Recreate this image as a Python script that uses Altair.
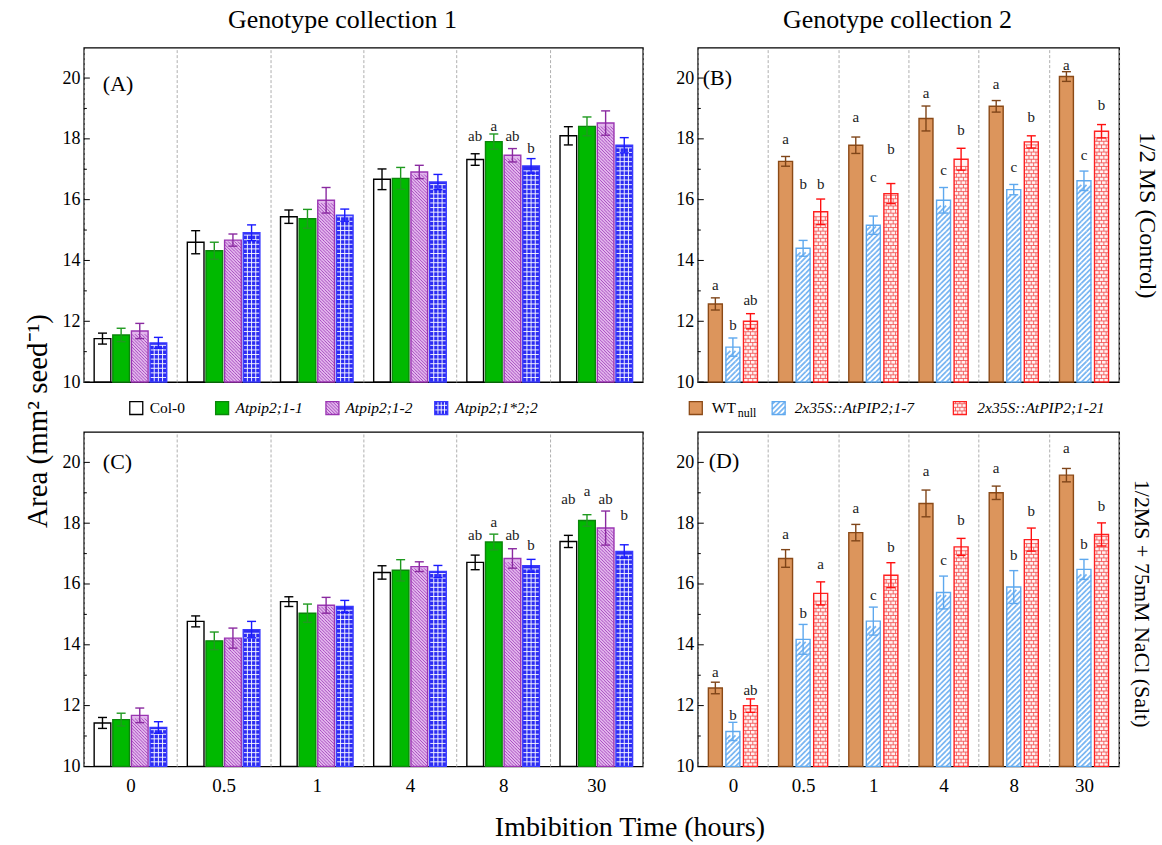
import altair as alt
import pandas as pd

FONT = "Liberation Serif"
NA = None

# ---------------------------------------------------------------- data
times = ["0", "0.5", "1", "4", "8", "30"]

geno_c1 = ["Col-0", "Atpip2;1-1", "Atpip2;1-2", "Atpip2;1*2;2"]
geno_c2 = ["WT_null", "2x35S::AtPIP2;1-7", "2x35S::AtPIP2;1-21"]

# (A) collection 1, 1/2 MS (control): mean seed area and SE
a_col0 = [11.43, 14.60, 15.44, 16.67, 17.32, 18.10]
a_col0_se = [0.18, 0.38, 0.22, 0.34, 0.19, 0.30]
a_pip1 = [11.55, 14.32, 15.37, 16.70, 17.91, 18.41]
a_pip1_se = [0.22, 0.28, 0.31, 0.36, 0.25, 0.31]
a_pip2 = [11.68, 14.67, 15.98, 16.91, 17.46, 18.52]
a_pip2_se = [0.25, 0.20, 0.42, 0.22, 0.22, 0.40]
a_dbl = [11.29, 14.91, 15.49, 16.58, 17.11, 17.79]
a_dbl_se = [0.18, 0.26, 0.20, 0.25, 0.24, 0.25]
a_letters = [["", "", "", "", "ab", ""], ["", "", "", "", "a", ""],
             ["", "", "", "", "ab", ""], ["", "", "", "", "b", ""]]
a_letter_y = [[NA, NA, NA, NA, 18.10, NA], [NA, NA, NA, NA, 18.43, NA],
              [NA, NA, NA, NA, 18.10, NA], [NA, NA, NA, NA, 17.69, NA]]

# (C) collection 1, 1/2 MS + 75 mM NaCl (salt)
c_col0 = [11.43, 14.77, 15.42, 16.38, 16.71, 17.40]
c_col0_se = [0.18, 0.18, 0.16, 0.22, 0.24, 0.20]
c_pip1 = [11.54, 14.13, 15.04, 16.45, 17.38, 18.09]
c_pip1_se = [0.21, 0.29, 0.30, 0.35, 0.26, 0.19]
c_pip2 = [11.68, 14.22, 15.30, 16.57, 16.84, 17.84]
c_pip2_se = [0.24, 0.33, 0.26, 0.16, 0.32, 0.56]
c_dbl = [11.28, 14.50, 15.26, 16.41, 16.60, 17.07]
c_dbl_se = [0.19, 0.27, 0.20, 0.20, 0.21, 0.22]
c_letters = [["", "", "", "", "ab", "ab"], ["", "", "", "", "a", "a"],
             ["", "", "", "", "ab", "ab"], ["", "", "", "", "b", "b"]]
c_letter_y = [[NA, NA, NA, NA, 17.60, 18.80], [NA, NA, NA, NA, 18.03, 19.07],
              [NA, NA, NA, NA, 17.60, 18.80], [NA, NA, NA, NA, 17.27, 18.26]]

# (B) collection 2, control
b_wt = [12.57, 17.26, 17.79, 18.67, 19.07, 20.05]
b_wt_se = [0.20, 0.16, 0.27, 0.41, 0.19, 0.16]
b_l7 = [11.15, 14.40, 15.16, 15.98, 16.33, 16.62]
b_l7_se = [0.30, 0.26, 0.30, 0.42, 0.17, 0.32]
b_l21 = [12.00, 15.60, 16.20, 17.33, 17.90, 18.25]
b_l21_se = [0.25, 0.42, 0.33, 0.36, 0.20, 0.22]
b_letters = [["a"] * 6, ["b", "b", "c", "c", "c", "c"], ["ab", "b", "b", "b", "b", "b"]]
b_letter_y = [[13.20, 18.00, 18.72, 19.52, 19.81, 20.42],
              [11.88, 16.53, 16.75, 16.97, 17.08, 17.48],
              [12.70, 16.53, 17.68, 18.28, 18.72, 19.12]]

# (D) collection 2, salt
d_wt = [12.58, 16.84, 17.69, 18.65, 19.00, 19.58]
d_wt_se = [0.19, 0.29, 0.27, 0.44, 0.22, 0.22]
d_l7 = [11.15, 14.18, 14.78, 15.72, 15.90, 16.48]
d_l7_se = [0.30, 0.49, 0.46, 0.54, 0.54, 0.33]
d_l21 = [12.00, 15.69, 16.29, 17.22, 17.46, 17.63]
d_l21_se = [0.22, 0.38, 0.41, 0.28, 0.38, 0.38]
d_letters = [["a"] * 6, ["b", "b", "c", "c", "b", "b"], ["ab", "a", "b", "b", "b", "b"]]
d_letter_y = [[13.10, 17.66, 18.50, 19.71, 19.82, 20.46],
              [11.68, 15.03, 15.65, 16.80, 16.95, 17.30],
              [12.50, 16.67, 17.22, 18.10, 18.40, 18.56]]

# ---------------------------------------------------------------- layout
W1, W2, H = 560, 422, 335
Y_MIN, Y_MAX = 10, 21
PPU = H / (Y_MAX - Y_MIN)
ONE = pd.DataFrame({"k": [0]})

STYLE = {
    "Col-0": dict(fill="white", stroke="black", err="black"),
    "Atpip2;1-1": dict(fill="#00b900", stroke="#0b860b", err="#1f9a1f"),
    "Atpip2;1-2": dict(fill="#e2b6ec", stroke="#9a35b2", err="#8a2aa0",
                       pattern=dict(kind="diag", slope=1, spacing=3.2, color="#a13fbb", width=0.9)),
    "Atpip2;1*2;2": dict(fill="#2c2cf2", stroke="#3a3aff", err="#1a1aff",
                         pattern=dict(kind="grid", cell=4.6, ncols=4, color="white", width=0.9)),
    "WT_null": dict(fill="#dc955c", stroke="#8b4a17", err="#7f4519"),
    "2x35S::AtPIP2;1-7": dict(fill="white", stroke="#5ea8ee", err="#5ea8ee",
                              pattern=dict(kind="diag", slope=-1, spacing=5.2, color="#7ab6f2", width=1.8)),
    "2x35S::AtPIP2;1-21": dict(fill="#fff2f2", stroke="#ff2020", err="#ff1010",
                               pattern=dict(kind="brick", row=3.6, ncols=3, color="#f04a4a", width=0.8)),
}


def diag_segments(w, h, spacing, slope):
    segs = []
    kmax = int((w + h) / spacing) + 2
    for k in range(-kmax, kmax + 1):
        c = k * spacing
        if slope > 0:
            lo, hi = max(-w / 2, -h / 2 - c), min(w / 2, h / 2 - c)
        else:
            lo, hi = max(-w / 2, c - h / 2), min(w / 2, c + h / 2)
        if hi - lo > 1e-6:
            segs.append((lo, slope * lo + c, hi, slope * hi + c))
    return segs


def grid_segments(w, h, cell, ncols):
    segs = []
    y = h / 2 - cell
    while y > -h / 2 - 1e-6:
        segs.append((-w / 2, y, w / 2, y))
        y -= cell
    for j in range(1, ncols):
        x = -w / 2 + j * w / ncols
        segs.append((x, -h / 2, x, h / 2))
    return segs


def brick_segments(w, h, row, ncols):
    segs = []
    b = w / ncols
    k = 0
    yb = h / 2
    while yb > -h / 2 + 1e-6:
        yt = max(-h / 2, yb - row)
        if yb - row > -h / 2 - 1e-6:
            segs.append((-w / 2, yb - row, w / 2, yb - row))
        off = 0.0 if k % 2 == 0 else 0.5
        j = 0
        while True:
            x = -w / 2 + (j + off) * b
            if x >= w / 2 - 1e-6:
                break
            if x > -w / 2 + 1e-6:
                segs.append((x, yt, x, yb))
            j += 1
        yb -= row
        k += 1
    return segs


def pattern_segments(p, w, h):
    if p["kind"] == "diag":
        return diag_segments(w, h, p["spacing"], p["slope"])
    if p["kind"] == "grid":
        return grid_segments(w, h, p["cell"], p["ncols"])
    return brick_segments(w, h, p["row"], p["ncols"])


def tile_height(p):
    if p["kind"] == "diag":
        return p["spacing"]
    if p["kind"] == "grid":
        return p["cell"]
    return 2 * p["row"]


def svg_path(segs, w):
    k = 2.0 / w
    return " ".join(f"M{x1 * k:.4f},{y1 * k:.4f}L{x2 * k:.4f},{y2 * k:.4f}"
                    for x1, y1, x2, y2 in segs)


def bar_key(t, g):
    return f"{t}|{g}"


def make_frame(genos, means, ses, letters, letter_y):
    rows = []
    for g, m, s, L, LY in zip(genos, means, ses, letters, letter_y):
        for t, mv, sv, lt, ly in zip(times, m, s, L, LY):
            rows.append(dict(time=t, geno=g, key=bar_key(t, g), mean=mv, lo=mv - sv,
                             hi=mv + sv, letter=lt, ly=ly))
    return pd.DataFrame(rows)


def txt(text, x, y, size, **kw):
    opts = dict(font=FONT, fontSize=size, color="black")
    opts.update(kw)
    return alt.Chart(ONE).mark_text(**opts).encode(
        x=alt.value(x), y=alt.value(y), text=alt.value(text))


def legend_layers(items, cy, size=13):
    layers = []
    half = size / 2
    for g, cx in items:
        st = STYLE[g]
        box = dict(x=alt.value(cx - half), x2=alt.value(cx + half),
                   y=alt.value(cy - half), y2=alt.value(cy + half))
        layers.append(alt.Chart(ONE).mark_rect(color=st["fill"], strokeWidth=0).encode(**box))
        p = st.get("pattern")
        if p:
            layers.append(alt.Chart(ONE).mark_point(
                shape=svg_path(pattern_segments(p, size, size), size), size=size * size,
                filled=False, stroke=p["color"], strokeWidth=p["width"], opacity=1,
                strokeCap="butt").encode(x=alt.value(cx), y=alt.value(cy)))
        layers.append(alt.Chart(ONE).mark_rect(fill="white", fillOpacity=0, stroke=st["stroke"],
                                               strokeWidth=1.3).encode(**box))
    return layers


def panel(df, genos, width, bw, bottom, extras):
    ns = len(genos)
    # one band per bar, with one empty band between time groups
    keys = []
    for i, t in enumerate(times):
        if i:
            keys.append(f"gap{i}")
        keys.extend(bar_key(t, g) for g in genos)
    step = (width / len(times)) / (ns + 1)
    pad_in = 1 - bw / step
    pad_out = (1 + pad_in) / 2

    ksc = alt.Scale(type="band", domain=keys, paddingInner=pad_in, paddingOuter=pad_out)
    tsc = alt.Scale(type="band", domain=times, paddingInner=0, paddingOuter=0)
    ysc = alt.Scale(domain=[Y_MIN, Y_MAX], nice=False, zero=False)
    taxis = alt.Axis(title=None, labels=bottom, ticks=False, domain=False, grid=True,
                     tickBand="extent", gridDash=[3, 2], gridColor="#9a9a9a", gridWidth=0.8,
                     labelFontSize=19, labelPadding=10, labelAngle=0, labelFont=FONT,
                     labelColor="black", orient="bottom")
    yaxis = alt.Axis(title=None, values=[10, 12, 14, 16, 18, 20], ticks=False, domain=False,
                     grid=False, labelFontSize=18, labelPadding=4, labelFont=FONT,
                     labelColor="black")
    X = alt.X("key:N", scale=ksc, axis=None)

    def Y(field):
        return alt.Y(f"{field}:Q", scale=ysc, axis=yaxis)

    # time axis: labels and dotted dividers between the groups
    layers = [alt.Chart(pd.DataFrame({"time": times})).mark_tick(opacity=0).encode(
        x=alt.X("time:N", scale=tsc, axis=taxis), y=alt.value(0))]

    for g in genos:
        st = STYLE[g]
        sub = df[df["geno"] == g]
        base = alt.Chart(sub)
        layers.append(base.mark_bar(color=st["fill"], strokeWidth=0).encode(
            x=X, y=Y("mean"), y2=alt.datum(Y_MIN)))
        p = st.get("pattern")
        if p:
            h = tile_height(p)
            rows = []
            for k, m in zip(sub["key"], sub["mean"]):
                count = int(((m - Y_MIN) * PPU - 0.5) // h)
                for i in range(count):
                    rows.append({"key": k, "ty": Y_MIN + (i + 0.5) * h / PPU})
            layers.append(alt.Chart(pd.DataFrame(rows)).mark_point(
                shape=svg_path(pattern_segments(p, bw, h), bw), size=bw * bw,
                filled=False, stroke=p["color"], strokeWidth=p["width"], opacity=1,
                strokeCap="butt").encode(x=X, y=Y("ty")))
        layers.append(base.mark_bar(fill="white", fillOpacity=0, stroke=st["stroke"],
                                    strokeWidth=1.4).encode(
            x=X, y=Y("mean"), y2=alt.datum(Y_MIN)))
        layers.append(base.mark_rule(color=st["err"], strokeWidth=1.4).encode(
            x=X, y=Y("lo"), y2=alt.Y2("hi:Q")))
        for end in ("lo", "hi"):
            layers.append(base.mark_tick(color=st["err"], orient="horizontal", size=9,
                                         thickness=1.4, opacity=1).encode(
                x=X, y=Y(end)))

    lab = df[df["letter"] != ""]
    layers.append(alt.Chart(lab).mark_text(font=FONT, fontSize=15, baseline="middle",
                                           color="#222222").encode(
        x=X, y=Y("ly"), text="letter:N"))

    # inward axis ticks (major with labels, minor between)
    major = pd.DataFrame({"v": [10, 12, 14, 16, 18, 20]})
    minor = pd.DataFrame({"v": [11, 13, 15, 17, 19]})
    layers.append(alt.Chart(major).mark_rule(color="black", strokeWidth=1).encode(
        y=Y("v"), x=alt.value(0), x2=alt.value(6)))
    layers.append(alt.Chart(minor).mark_rule(color="black", strokeWidth=1).encode(
        y=Y("v"), x=alt.value(0), x2=alt.value(3)))

    layers.extend(extras)
    return alt.layer(*layers).resolve_scale(x="independent").properties(width=width, height=H)


df_a = make_frame(geno_c1, [a_col0, a_pip1, a_pip2, a_dbl],
                  [a_col0_se, a_pip1_se, a_pip2_se, a_dbl_se], a_letters, a_letter_y)
df_c = make_frame(geno_c1, [c_col0, c_pip1, c_pip2, c_dbl],
                  [c_col0_se, c_pip1_se, c_pip2_se, c_dbl_se], c_letters, c_letter_y)
df_b = make_frame(geno_c2, [b_wt, b_l7, b_l21], [b_wt_se, b_l7_se, b_l21_se],
                  b_letters, b_letter_y)
df_d = make_frame(geno_c2, [d_wt, d_l7, d_l21], [d_wt_se, d_l7_se, d_l21_se],
                  d_letters, d_letter_y)

canvas_tl = alt.Chart(ONE).mark_rect(opacity=0).encode(
    x=alt.value(-83), x2=alt.value(-82), y=alt.value(-46), y2=alt.value(-45))
canvas_br = alt.Chart(ONE).mark_rect(opacity=0).encode(
    x=alt.value(463), x2=alt.value(464), y=alt.value(413), y2=alt.value(414))

LEG_Y = 361
LEG_FS = 15.5
extras_a = [
    canvas_tl,
    txt("(A)", 19, 36, 22, align="left", baseline="middle"),
    txt("Genotype collection 1", 259, -28, 26, align="center", baseline="middle"),
    txt("Area (mm² seed⁻¹)", -46, 374, 29, align="center", baseline="middle", angle=270),
    *legend_layers([("Col-0", 52.5), ("Atpip2;1-1", 138.5), ("Atpip2;1-2", 249),
                    ("Atpip2;1*2;2", 358)], LEG_Y),
    txt("Col-0", 66, LEG_Y, LEG_FS, align="left", baseline="middle"),
    txt("Atpip2;1-1", 152, LEG_Y, LEG_FS, align="left", baseline="middle", fontStyle="italic"),
    txt("Atpip2;1-2", 262, LEG_Y, LEG_FS, align="left", baseline="middle", fontStyle="italic"),
    txt("Atpip2;1*2;2", 372, LEG_Y, LEG_FS, align="left", baseline="middle", fontStyle="italic"),
]
extras_b = [
    txt("(B)", 5, 30, 22, align="left", baseline="middle"),
    txt("Genotype collection 2", 200, -28, 26, align="center", baseline="middle"),
    txt("1/2 MS (Control)", 450, 168, 24, align="center", baseline="middle", angle=90),
    *legend_layers([("WT_null", -2), ("2x35S::AtPIP2;1-7", 81),
                    ("2x35S::AtPIP2;1-21", 262.5)], LEG_Y),
    txt("WT", 14, LEG_Y, LEG_FS, align="left", baseline="middle"),
    txt("null", 40, LEG_Y + 5, 12, align="left", baseline="middle"),
    txt("2x35S::AtPIP2;1-7", 97, LEG_Y, LEG_FS, align="left", baseline="middle", fontStyle="italic"),
    txt("2x35S::AtPIP2;1-21", 280, LEG_Y, LEG_FS, align="left", baseline="middle", fontStyle="italic"),
]
extras_c = [
    txt("(C)", 19, 30, 22, align="left", baseline="middle"),
    txt("Imbibition Time (hours)", 547, 397, 28, align="center", baseline="middle"),
]
extras_d = [
    canvas_br,
    txt("(D)", 11, 29, 22, align="left", baseline="middle"),
    txt("1/2MS + 75mM NaCl (Salt)", 445, 172, 22, align="center", baseline="middle", angle=90),
]

pa = panel(df_a, geno_c1, W1, 16.7, False, extras_a)
pb = panel(df_b, geno_c2, W2, 14.0, False, extras_b)
pc = panel(df_c, geno_c1, W1, 16.7, True, extras_c)
pd_ = panel(df_d, geno_c2, W2, 14.0, True, extras_d)

chart = alt.concat(pa, pb, pc, pd_, columns=2, bounds="flush",
                   spacing={"row": 50, "column": 55}).properties(
    padding=0, background="white"
).configure_view(stroke="black", strokeWidth=1.3)

chart.save("out.html", embed_options={"renderer": "svg", "actions": False})
